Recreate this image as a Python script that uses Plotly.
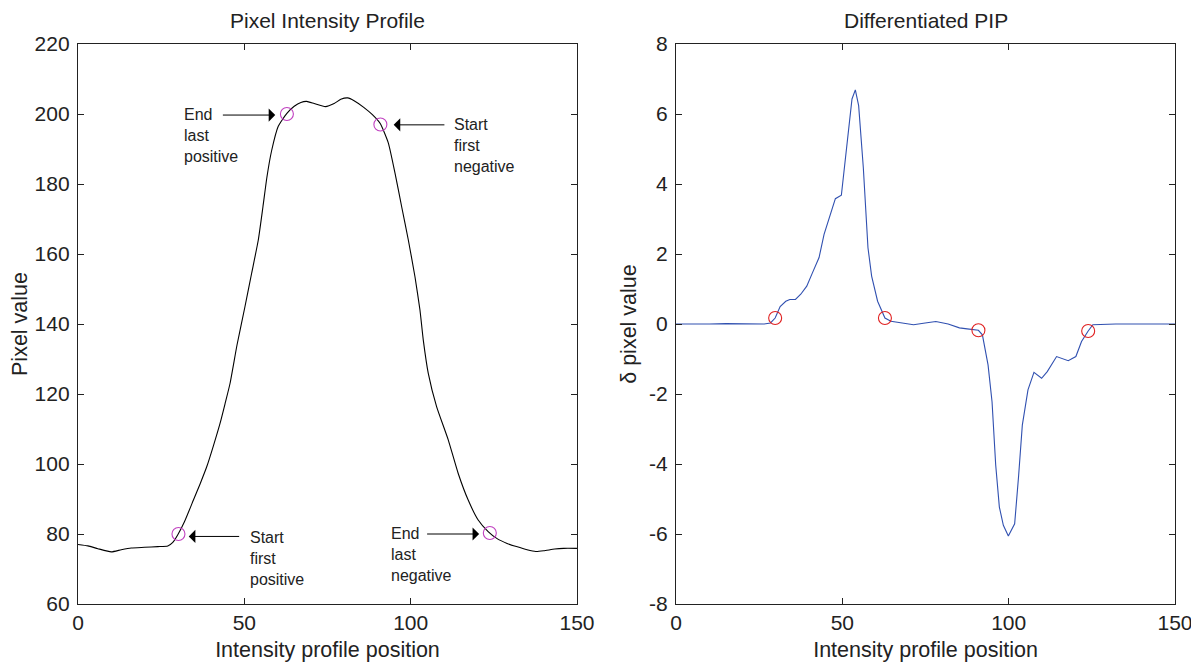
import plotly.graph_objects as go
from plotly.subplots import make_subplots

# ---- data: pixel intensity profile ----
pip_x = [0, 3, 6, 10, 13, 16, 20, 24, 27, 28.5, 30, 32, 34.7, 36.7, 38.7, 40.7, 42.7, 44.2,
         45.7, 47.8, 50.2, 52.2, 54.2, 55.6, 56.8, 58.2, 60.2, 62.8, 65, 67, 68.7, 71, 74.4,
         77, 79, 81.1, 83, 85.9, 88.5, 90.9, 93.3, 95.3, 97.3, 99.3, 101.3, 102.8, 103.8,
         105.3, 107.8, 111.3, 114.3, 117.3, 120.3, 123.3, 126.1, 129, 131.8, 135, 137.6, 140,
         143.3, 146, 150]
pip_y = [77.0, 76.6, 75.8, 74.9, 75.5, 76.0, 76.2, 76.4, 76.6, 77.6, 79.8, 83.5, 89.7, 94.3,
         99.2, 105.2, 111.6, 117.2, 123, 134, 145, 154.5, 164, 173.5, 182, 189.5, 196.5, 200.2,
         202.2, 203.3, 203.6, 203, 202.1, 203, 204.2, 204.6, 203.8, 201.9, 199.8, 197.2, 191.7,
         183.1, 173.5, 164, 153.5, 144, 135.4, 125.9, 116.4, 106.9, 97.3, 89.7, 84, 80.7, 78.6,
         77.3, 76.4, 75.5, 75.0, 75.2, 75.7, 75.9, 75.9]
pip_mark_x = [30.2, 62.8, 90.9, 123.8]
pip_mark_y = [80.0, 200.0, 197.0, 80.3]

# ---- data: differentiated PIP ----
d_x = [0, 5, 10, 15, 20, 26.5, 28.4, 29.8, 31.3, 33, 34.2, 35.9, 37.5, 39.3, 41, 43, 44.5, 46.2,
       47.9, 49.7, 51.4, 52.9, 53.9, 54.9, 56.3, 57.7, 58.8, 60.6, 62.8, 64.6, 68, 71.4, 74.9,
       78.1, 81.8, 85.2, 87.5, 90.9, 92.1, 93.8, 95, 96.1, 97.2, 98.4, 99.9, 101.8, 103, 104.1,
       105.8, 107.6, 109.9, 111.6, 114.4, 117.9, 120.2, 121.9, 123.9, 125.3, 132.2, 140, 150]
d_y = [0, -0.01, 0.0, 0.01, 0, 0, 0.03, 0.17, 0.5, 0.65, 0.7, 0.7, 0.85, 1.08, 1.46, 1.9, 2.56,
       3.04, 3.58, 3.68, 5.05, 6.43, 6.69, 6.24, 4.47, 2.18, 1.37, 0.65, 0.17, 0.08, 0.03, -0.02,
       0.03, 0.07, 0.0, -0.11, -0.14, -0.18, -0.31, -1.17, -2.22, -4.03, -5.23, -5.75, -6.06,
       -5.71, -4.32, -2.89, -1.88, -1.38, -1.55, -1.36, -0.93, -1.05, -0.93, -0.5, -0.2, -0.02,
       0, 0, 0]
d_mark_x = [29.8, 62.8, 90.9, 123.9]
d_mark_y = [0.17, 0.17, -0.18, -0.2]

# tick values / labels
x_ticks = [0, 50, 100, 150]
y1_ticks = [60, 80, 100, 120, 140, 160, 180, 200, 220]
y2_ticks = [-8, -6, -4, -2, 0, 2, 4, 6, 8]
y2_ticktext = ["-8", "-6", "-4", "-2", "0", "2", "4", "6", "8"]

# annotation labels: (lines, text x, first line y, arrow tail x, arrow head x, arrow y)
labels = [
    (["End", "last", "positive"], 31.4, 200.0, 43.1, 59.3, 199.7),
    (["Start", "first", "negative"], 112.3, 197.0, 110.6, 94.9, 196.9),
    (["Start", "first", "positive"], 51.2, 79.0, 48.9, 33.3, 79.3),
    (["End", "last", "negative"], 93.4, 80.2, 104.5, 120.6, 80.0),
]

FONT = "Liberation Sans, Arial, sans-serif"
TXT = "#222222"

fig = make_subplots(rows=1, cols=2, horizontal_spacing=0.0903,
                    subplot_titles=("Pixel Intensity Profile", "Differentiated PIP"))

fig.add_trace(go.Scatter(x=pip_x, y=pip_y, mode="lines",
                         line=dict(color="black", width=1.1, shape="spline", smoothing=0.5),
                         showlegend=False), row=1, col=1)
fig.add_trace(go.Scatter(x=pip_mark_x, y=pip_mark_y, mode="markers",
                         marker=dict(symbol="circle-open", size=13, color="#C040C0",
                                     line=dict(width=1.1)),
                         showlegend=False), row=1, col=1)
fig.add_trace(go.Scatter(x=d_x, y=d_y, mode="lines",
                         line=dict(color="#3050B0", width=1.1),
                         showlegend=False), row=1, col=2)
fig.add_trace(go.Scatter(x=d_mark_x, y=d_mark_y, mode="markers",
                         marker=dict(symbol="circle-open", size=13, color="#E02020",
                                     line=dict(width=1.1)),
                         showlegend=False), row=1, col=2)

line_step = 6.0  # data units between text lines (~20 px)
for lines, tx, ty, ax0, hx, ay0 in labels:
    for i, s in enumerate(lines):
        fig.add_annotation(x=tx, y=ty - i * line_step, xref="x", yref="y", text=s,
                           showarrow=False, xanchor="left", yanchor="middle",
                           font=dict(family=FONT, size=16, color=TXT))
    fig.add_annotation(x=hx, y=ay0, ax=ax0, ay=ay0, xref="x", yref="y", axref="x", ayref="y",
                       text="", showarrow=True, arrowhead=1, arrowsize=2.2, arrowwidth=1.0,
                       arrowcolor="black")

for a in fig.layout.annotations:
    if a.text in ("Pixel Intensity Profile", "Differentiated PIP"):
        a.font = dict(family=FONT, size=21, color=TXT)
        a.yshift = 10

axis_common = dict(showgrid=False, zeroline=False, showline=True, linecolor="#222222",
                   linewidth=1.3, mirror="ticks", ticks="inside", ticklen=6,
                   tickcolor="#222222", tickfont=dict(family=FONT, size=21, color=TXT))

fig.update_xaxes(range=[0, 150], tickvals=x_ticks, **axis_common)
fig.update_xaxes(title=dict(text="Intensity profile position", standoff=8,
                            font=dict(family=FONT, size=21.5, color=TXT)))
fig.update_yaxes(range=[60, 220], tickvals=y1_ticks,
                 title=dict(text="Pixel value", standoff=6,
                            font=dict(family=FONT, size=21.5, color=TXT)),
                 ticklabelstandoff=3, row=1, col=1, **axis_common)
fig.update_yaxes(range=[-8, 8], tickvals=y2_ticks, ticktext=y2_ticktext,
                 title=dict(text="δ pixel value", standoff=6,
                            font=dict(family=FONT, size=21.5, color=TXT)),
                 ticklabelstandoff=3, row=1, col=2, **axis_common)

# the page body adds an 8 px margin, so the figure is offset by 8 px
fig.update_layout(width=1191, height=654, paper_bgcolor="white", plot_bgcolor="white",
                  margin=dict(l=70, r=24, t=36, b=58, autoexpand=False),
                  font=dict(family=FONT, color=TXT))
fig.update_xaxes(automargin=False)
fig.update_yaxes(automargin=False)

fig.write_html("out.html")
